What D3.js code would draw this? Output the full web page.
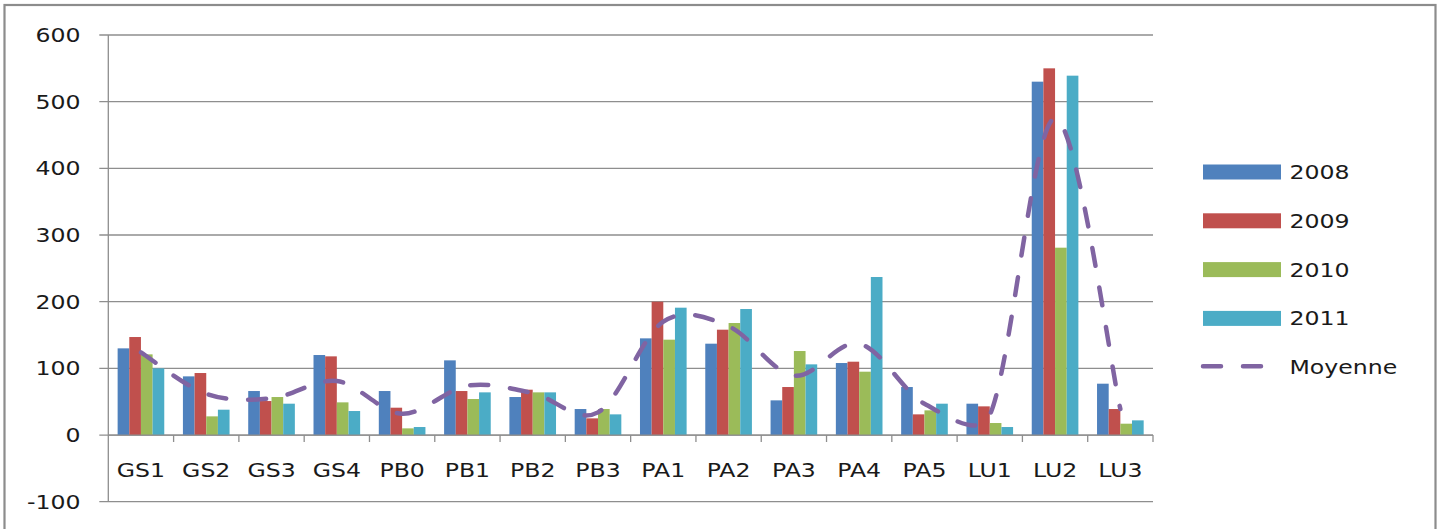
<!DOCTYPE html>
<html>
<head>
<meta charset="utf-8">
<script src="https://cdn.jsdelivr.net/npm/d3@7"></script>
<style>
  html, body { margin: 0; padding: 0; background: #fff; }
  svg { display: block; }
  text { font-family: "DejaVu Sans", sans-serif; fill: #1a1a1a; }
</style>
</head>
<body>
<script>
// ---- data ----
const categories = ["GS1","GS2","GS3","GS4","PB0","PB1","PB2","PB3","PA1","PA2","PA3","PA4","PA5","LU1","LU2","LU3"];
const seriesNames = ["2008","2009","2010","2011"];
const v2008 = [130, 88, 66, 120, 66, 112, 57, 39, 145, 137, 52, 108, 72, 47, 530, 77];
const v2009 = [147, 93, 51, 118, 41, 66, 68, 25, 200, 158, 72, 110, 31, 43, 550, 39];
const v2010 = [121, 28, 57, 49, 10, 54, 64, 39, 143, 168, 126, 95, 37, 18, 281, 17];
const v2011 = [100, 38, 47, 36, 12, 64, 64, 31, 191, 189, 106, 237, 47, 12, 539, 22];
const moyenne = [124, 62, 55, 81, 32, 74, 63, 34, 170, 163, 89, 137, 47, 30, 475, 39];
const yTicks = [-100, 0, 100, 200, 300, 400, 500, 600];
const lineName = "Moyenne";

const seriesValues = [v2008, v2009, v2010, v2011];
const colors = ["#4F81BD", "#C0504D", "#9BBB59", "#4BACC6"];
const lineColor = "#8064A2";

// ---- layout ----
const W = 1442, H = 529;
const pLeft = 108.3, pRight = 1153, pTop = 35, pBottom = 501.7;
const sx = 1.18; // horizontal text stretch
const fs = 20;

const svg = d3.select("body").append("svg").attr("width", W).attr("height", H);

// frame
svg.append("rect").attr("x", 4.5).attr("y", 5).attr("width", 1431).attr("height", 540)
  .attr("fill", "#fff").attr("stroke", "#8c8c8c").attr("stroke-width", 2.2);

const x = d3.scaleBand().domain(categories).range([pLeft, pRight]).padding(0);
const x1 = d3.scaleBand().domain(seriesNames).range([0, x.bandwidth()]).paddingInner(0).paddingOuter(0.8);
const y = d3.scaleLinear().domain([-100, 600]).range([pBottom, pTop]);

function stretchedText(g, tx, ty, str, anchor) {
  return g.append("text")
    .attr("transform", `translate(${tx},${ty}) scale(${sx},1)`)
    .attr("text-anchor", anchor)
    .attr("font-size", fs)
    .text(str);
}

// gridlines + y ticks
const grid = svg.append("g");
yTicks.forEach(t => {
  grid.append("line")
    .attr("x1", pLeft - 9).attr("x2", pRight)
    .attr("y1", y(t)).attr("y2", y(t))
    .attr("stroke", "#8e8e8e").attr("stroke-width", 1.3);
  stretchedText(grid, 80.5, y(t) + 7, String(t), "end");
});

// y axis line
svg.append("line").attr("x1", pLeft).attr("x2", pLeft).attr("y1", pTop).attr("y2", pBottom)
  .attr("stroke", "#8e8e8e").attr("stroke-width", 1.3);

// bars
const barsG = svg.append("g");
categories.forEach((c, i) => {
  seriesNames.forEach((s, j) => {
    const v = seriesValues[j][i];
    barsG.append("rect")
      .attr("x", x(c) + x1(s))
      .attr("width", x1.bandwidth())
      .attr("y", y(Math.max(0, v)))
      .attr("height", Math.abs(y(v) - y(0)))
      .attr("fill", colors[j]);
  });
});

// x axis at zero
const xa = svg.append("g");
xa.append("line").attr("x1", pLeft).attr("x2", pRight).attr("y1", y(0)).attr("y2", y(0))
  .attr("stroke", "#8e8e8e").attr("stroke-width", 1.3);
categories.forEach((c, i) => {
  xa.append("line").attr("x1", x(c) + x.bandwidth()).attr("x2", x(c) + x.bandwidth())
    .attr("y1", y(0)).attr("y2", y(0) + 7)
    .attr("stroke", "#8e8e8e").attr("stroke-width", 1.3);
  stretchedText(xa, x(c) + x.bandwidth() / 2, 476.5, c, "middle");
});

// Moyenne line: Excel-like smoothed Bezier (Catmull-Rom tangents, limited by segment length)
const pts = moyenne.map((v, i) => [x(categories[i]) + x.bandwidth() / 2, y(v)]);
const n = pts.length;
const tang = pts.map((p, i) => {
  const a = pts[Math.max(0, i - 1)], b = pts[Math.min(n - 1, i + 1)];
  return [(b[0] - a[0]) / 6, (b[1] - a[1]) / 6];
});
const dist = (a, b) => Math.hypot(b[0] - a[0], b[1] - a[1]);
const limitK = 0.4;
const path = d3.path();
path.moveTo(pts[0][0], pts[0][1]);
for (let i = 0; i < n - 1; i++) {
  const p0 = pts[i], p1 = pts[i + 1];
  const seg = dist(p0, p1);
  const t0 = tang[i], t1 = tang[i + 1];
  const l0 = Math.hypot(t0[0], t0[1]) || 1, l1 = Math.hypot(t1[0], t1[1]) || 1;
  const s0 = Math.min(1, limitK * seg / l0), s1 = Math.min(1, limitK * seg / l1);
  path.bezierCurveTo(p0[0] + t0[0] * s0, p0[1] + t0[1] * s0,
                     p1[0] - t1[0] * s1, p1[1] - t1[1] * s1,
                     p1[0], p1[1]);
}
svg.append("path")
  .attr("d", path.toString())
  .attr("fill", "none")
  .attr("stroke", lineColor)
  .attr("stroke-width", 4.5)
  .attr("stroke-linecap", "round")
  .attr("stroke-dasharray", "18,22");

// legend
const lg = svg.append("g");
const lx = 1203, lTop = 172, lStep = 48.8;
seriesNames.forEach((s, j) => {
  const cy = lTop + j * lStep;
  lg.append("rect").attr("x", lx).attr("y", cy - 7.5).attr("width", 78).attr("height", 15)
    .attr("fill", colors[j]);
  stretchedText(lg, 1289.5, cy + 7, s, "start");
});
{
  const cy = lTop + 4 * lStep - 1;
  lg.append("line").attr("x1", lx).attr("x2", 1281).attr("y1", cy).attr("y2", cy)
    .attr("stroke", lineColor).attr("stroke-width", 4.5)
    .attr("stroke-linecap", "round").attr("stroke-dasharray", "18,22");
  stretchedText(lg, 1289.5, cy + 8, lineName, "start");
}
</script>
</body>
</html>
